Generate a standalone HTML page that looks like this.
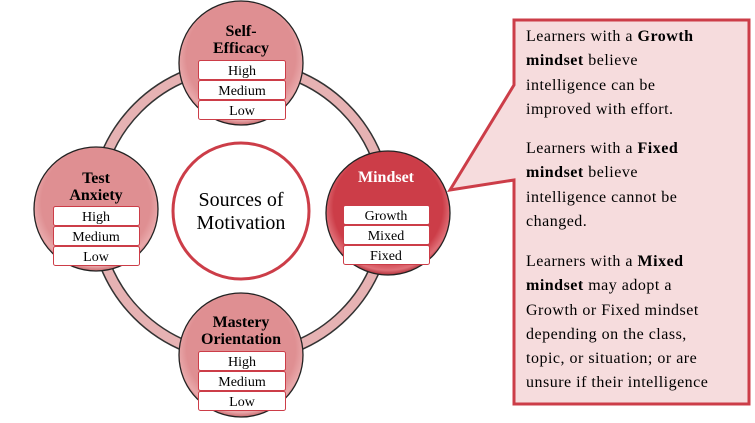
<!DOCTYPE html>
<html><head><meta charset="utf-8"><style>
body{margin:0;width:755px;height:423px;background:#fff;overflow:hidden;font-family:"Liberation Serif","Times New Roman",serif;}
.t{position:absolute;left:526px;width:186px;font-family:"Liberation Serif","Times New Roman",serif;font-size:16px;letter-spacing:0.5px;line-height:24.3px;color:#000;}
</style></head><body>
<svg width="755" height="423" style="position:absolute;left:0;top:0" font-family="Liberation Serif, serif">
<defs>
<radialGradient id="g" cx="0.5" cy="0.45" r="0.55"><stop offset="0.8" stop-color="#df8f92"/><stop offset="0.93" stop-color="#e9a9ab"/><stop offset="1" stop-color="#c86a6e"/></radialGradient>
<radialGradient id="gm" cx="0.5" cy="0.45" r="0.55"><stop offset="0.8" stop-color="#cc3d48"/><stop offset="0.93" stop-color="#e07078"/><stop offset="1" stop-color="#b0303a"/></radialGradient>
</defs>
<circle cx="241" cy="211" r="146" fill="none" stroke="#333" stroke-width="12"/>
<circle cx="241" cy="211" r="146" fill="none" stroke="#e6b2b3" stroke-width="9"/>
<circle cx="241" cy="211" r="68" fill="#fff" stroke="#cc3d48" stroke-width="3"/>
<text x="241" y="206" text-anchor="middle" font-size="20">Sources of</text>
<text x="241" y="229" text-anchor="middle" font-size="20">Motivation</text>
<g stroke="#222" stroke-width="1.3">
<circle cx="241" cy="63" r="62" fill="url(#g)"/>
<circle cx="96" cy="209" r="62" fill="url(#g)"/>
<circle cx="241" cy="355" r="62" fill="url(#g)"/>
<circle cx="388" cy="213" r="62" fill="url(#gm)"/>
</g>
<g font-weight="bold" font-size="16" text-anchor="middle">
<text x="241" y="36">Self-</text><text x="241" y="53">Efficacy</text>
<text x="96" y="183">Test</text><text x="96" y="200">Anxiety</text>
<text x="241" y="327">Mastery</text><text x="241" y="344">Orientation</text>
<text x="386" y="182" fill="#fff">Mindset</text>
</g>
<g fill="#fff" stroke="#cc3d48" stroke-width="1">
<rect x="198.5" y="60.5" width="87" height="19" rx="2"/><rect x="198.5" y="80.5" width="87" height="19" rx="2"/><rect x="198.5" y="100.5" width="87" height="19" rx="2"/>
<rect x="53.5" y="206.5" width="86" height="19" rx="2"/><rect x="53.5" y="226.5" width="86" height="19" rx="2"/><rect x="53.5" y="246.5" width="86" height="19" rx="2"/>
<rect x="198.5" y="351.5" width="87" height="19" rx="2"/><rect x="198.5" y="371.5" width="87" height="19" rx="2"/><rect x="198.5" y="391.5" width="87" height="19" rx="2"/>
<rect x="343.5" y="205.5" width="86" height="19" rx="2"/><rect x="343.5" y="225.5" width="86" height="19" rx="2"/><rect x="343.5" y="245.5" width="86" height="19" rx="2"/>
</g>
<g font-size="14" text-anchor="middle">
<text x="242" y="75">High</text><text x="242" y="95">Medium</text><text x="242" y="115">Low</text>
<text x="96" y="221">High</text><text x="96" y="241">Medium</text><text x="96" y="261">Low</text>
<text x="242" y="366">High</text><text x="242" y="386">Medium</text><text x="242" y="406">Low</text>
<text x="386" y="220">Growth</text><text x="386" y="240">Mixed</text><text x="386" y="260">Fixed</text>
</g>
<path d="M514 20 H749 V404 H514 V180 L450 190 L514 85 Z" fill="#f6dcdd" stroke="#cc3d48" stroke-width="3" stroke-linejoin="miter"/>
</svg>
<div class="t" style="top:25px">Learners with a <b>Growth mindset</b> believe intelligence can be improved with effort.</div>
<div class="t" style="top:137px">Learners with a <b>Fixed mindset</b> believe intelligence cannot be changed.</div>
<div class="t" style="top:250px">Learners with a <b>Mixed mindset</b> may adopt a Growth or Fixed mindset depending on the class, topic, or situation; or are unsure if their intelligence</div>
</body></html>
